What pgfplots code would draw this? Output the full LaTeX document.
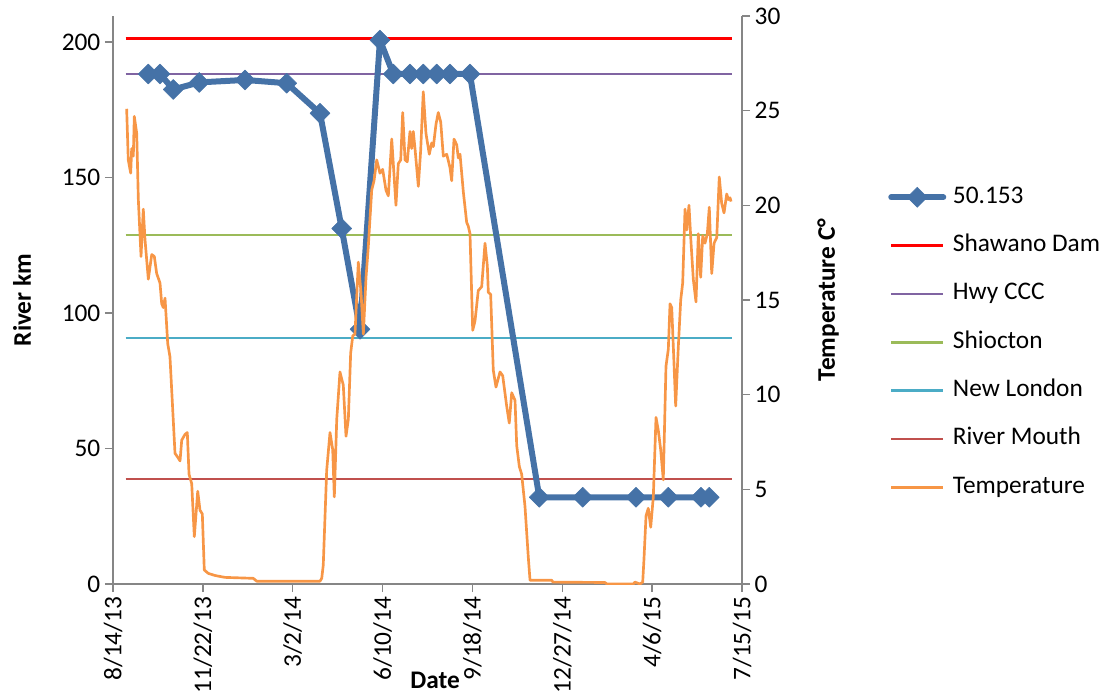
\documentclass[border=0pt]{standalone}
\usepackage{fontspec}
\setmainfont{Carlito}
\usepackage{pgfplots}
\pgfplotsset{compat=1.18}

\definecolor{serblue}{RGB}{69,114,167}
\definecolor{shawano}{RGB}{255,0,0}
\definecolor{hwy}{RGB}{128,100,162}
\definecolor{shiocton}{RGB}{155,187,89}
\definecolor{newlondon}{RGB}{75,172,198}
\definecolor{mouth}{RGB}{192,80,77}
\definecolor{tempc}{RGB}{247,150,70}
\definecolor{axisgray}{RGB}{134,134,134}

\newcommand\cf{\fontsize{19}{23}\selectfont}

% x values are days since 8/14/13
\pgfplotstableread{
day temp
15.2 25.1
17.0 22.4
19.7 21.7
20.8 23.0
22.6 22.6
23.7 24.7
26.4 23.8
28.2 20.3
31.2 17.3
33.7 19.8
35.6 18.2
39.3 16.1
43.1 17.4
46.0 17.3
48.6 16.4
52.3 15.9
54.2 14.8
56.0 14.6
57.9 15.1
60.9 12.7
63.4 12.0
69.0 6.9
72.0 6.7
74.6 6.5
76.5 7.6
80.1 7.9
82.7 8.0
84.6 5.8
87.6 5.3
90.5 2.5
94.3 4.9
96.8 3.9
99.4 3.7
101.6 0.74
106.1 0.56
113.5 0.45
124.6 0.35
156.1 0.30
159.9 0.15
230.4 0.15
232.3 0.30
234.0 1.0
237.8 6.0
241.5 8.0
244.5 7.1
246.3 4.6
249.0 8.7
252.6 11.2
256.3 10.5
259.3 7.8
261.9 8.7
264.5 12.2
266.8 13.1
269.3 13.2
273.0 17.0
276.0 15.4
278.6 13.2
281.6 16.2
284.1 17.8
287.9 20.8
290.5 21.3
293.5 22.4
297.1 21.7
300.1 21.9
303.8 20.8
306.4 20.5
310.2 23.5
314.9 20.0
317.5 22.2
320.2 22.4
322.4 24.9
325.0 22.4
327.5 22.3
330.5 23.9
332.4 23.0
334.2 23.9
336.1 23.0
339.8 21.0
342.4 22.9
345.3 26.0
348.3 23.8
352.0 22.7
354.7 23.3
356.5 23.1
359.5 24.3
362.0 24.9
364.7 24.4
367.6 22.6
371.4 22.7
375.0 22.0
376.9 21.3
379.5 23.5
382.5 23.2
384.3 22.5
386.2 22.7
389.9 20.7
393.6 19.1
395.4 18.9
397.3 18.5
400.3 13.4
402.9 13.9
406.5 15.5
410.3 15.7
414.0 18.0
416.6 16.8
417.7 15.4
420.3 15.3
423.2 11.3
426.2 10.4
430.7 11.2
433.7 11.0
438.1 9.4
441.0 8.5
443.7 10.1
447.4 9.7
449.3 7.3
452.2 6.2
454.8 5.8
458.5 4.1
462.2 1.4
464.1 0.2
488.2 0.2
489.7 0.1
547.5 0.08
549.8 0.0
579.0 0.0
580.9 0.1
586.5 0.0
589.5 0.1
590.9 1.3
593.2 3.6
595.7 4.0
598.4 3.0
601.3 4.6
604.3 8.8
606.9 8.1
609.5 7.1
612.4 5.5
615.4 11.5
618.0 12.4
619.9 14.8
621.8 14.6
623.6 12.5
626.2 9.4
629.1 12.5
631.8 15.0
634.0 15.9
636.6 19.8
638.5 18.7
641.0 20.0
643.3 18.0
645.8 16.1
648.8 14.9
651.4 18.5
654.0 16.2
656.3 18.4
658.8 18.0
661.4 18.5
663.6 19.9
666.3 16.4
668.9 18.0
671.9 18.3
674.7 21.5
677.4 20.1
680.0 19.6
683.0 20.6
684.8 20.3
686.7 20.4
687.8 20.2
}\temptable

\pgfplotsset{
  chartbase/.style={
    scale only axis, width=471.75pt, height=426pt,
    at={(0pt,0pt)}, anchor=south west,
    xmin=0, xmax=700,
    axis line style={-, axisgray, line width=1pt},
    tick style={axisgray, line width=1pt},
    major tick length=6pt, tick align=outside,
    /pgf/number format/assume math mode=true,
    tick label style={font=\cf, black},
    label style={font=\cf\bfseries, black},
  },
  refline/.style={line width=2pt, no markers},
}

\begin{document}
\begin{tikzpicture}
\begin{axis}[chartbase,
  axis x line*=bottom, axis y line*=left,
  ymin=0, ymax=209.6, ytick={0,50,...,200},
  xtick={0,100,...,700},
  xticklabels={8/14/13,11/22/13,3/2/14,6/10/14,9/18/14,12/27/14,4/6/15,7/15/15},
  xticklabel style={rotate=90, anchor=east},
  xlabel={Date}, ylabel={River km},
  xlabel style={at={(axis description cs:0.512,-0.169)}, anchor=center},
  ylabel style={at={(axis description cs:-0.1447,0.5)}, anchor=center},
]
\addplot[refline, shawano] coordinates {(14.1,201.3) (688.5,201.3)};
\addplot[refline, hwy] coordinates {(14.1,188.2) (688.5,188.2)};
\addplot[refline, shiocton] coordinates {(14.1,128.8) (688.5,128.8)};
\addplot[refline, newlondon] coordinates {(14.1,90.8) (688.5,90.8)};
\addplot[refline, mouth] coordinates {(14.1,38.7) (688.5,38.7)};
\addplot[serblue, line width=4.5pt, line join=round, line cap=round,
  mark=square*, mark size=5.3pt,
  mark options={rotate=45, solid, fill=serblue, draw=serblue, line width=0.4pt}]
  coordinates {
  (39.3,188.2) (52.3,188.2) (67.1,182.5) (96.0,185.1) (146.9,186.0)
  (193.3,184.8) (230.4,173.7) (254.5,131.2) (274.9,94.0) (297.1,200.7)
  (311.9,188.2) (330.5,188.2) (345.3,188.2) (360.2,188.2) (375.0,188.2)
  (397.2,188.2) (474.4,32.0) (522.7,32.0) (582.0,32.0) (618.0,32.0)
  (654.3,32.0) (663.6,32.0)};
\end{axis}

\begin{axis}[chartbase,
  axis x line=none, axis y line*=right,
  ymin=0, ymax=30, ytick={0,5,...,30},
  ylabel={Temperature C°},
  ylabel style={at={(axis description cs:1.1367,0.5)}, anchor=center},
  legend cell align=left,
  legend image code/.code={\draw[mark repeat=2, mark phase=2, #1]
    plot coordinates {(0pt,0pt) (19.5pt,0pt) (39pt,0pt)};},
  legend style={at={(axis description cs:1.2321,0.7013)}, anchor=north west,
    draw=none, fill=none, inner sep=0pt, font=\cf,
    row sep=19.25pt, column sep=5pt,
    nodes={inner sep=0pt, text height=13pt, text depth=4pt}},
]
\addlegendimage{serblue, line width=4.5pt, line cap=round, mark=square*, mark size=5.3pt,
  mark options={rotate=45, solid, fill=serblue, draw=serblue, line width=0.4pt}}
\addlegendentry{50.153}
\addlegendimage{refline, shawano}\addlegendentry{Shawano Dam}
\addlegendimage{refline, hwy}\addlegendentry{Hwy CCC}
\addlegendimage{refline, shiocton}\addlegendentry{Shiocton}
\addlegendimage{refline, newlondon}\addlegendentry{New London}
\addlegendimage{refline, mouth}\addlegendentry{River Mouth}
\addplot[tempc, line width=2pt, no markers, line join=round] table[x=day, y=temp] {\temptable};
\addlegendentry{Temperature}
\end{axis}
\pgfresetboundingbox
\path[use as bounding box] (-84.75pt,-82.5pt) rectangle (749.25pt,438pt);
\end{tikzpicture}
\end{document}
